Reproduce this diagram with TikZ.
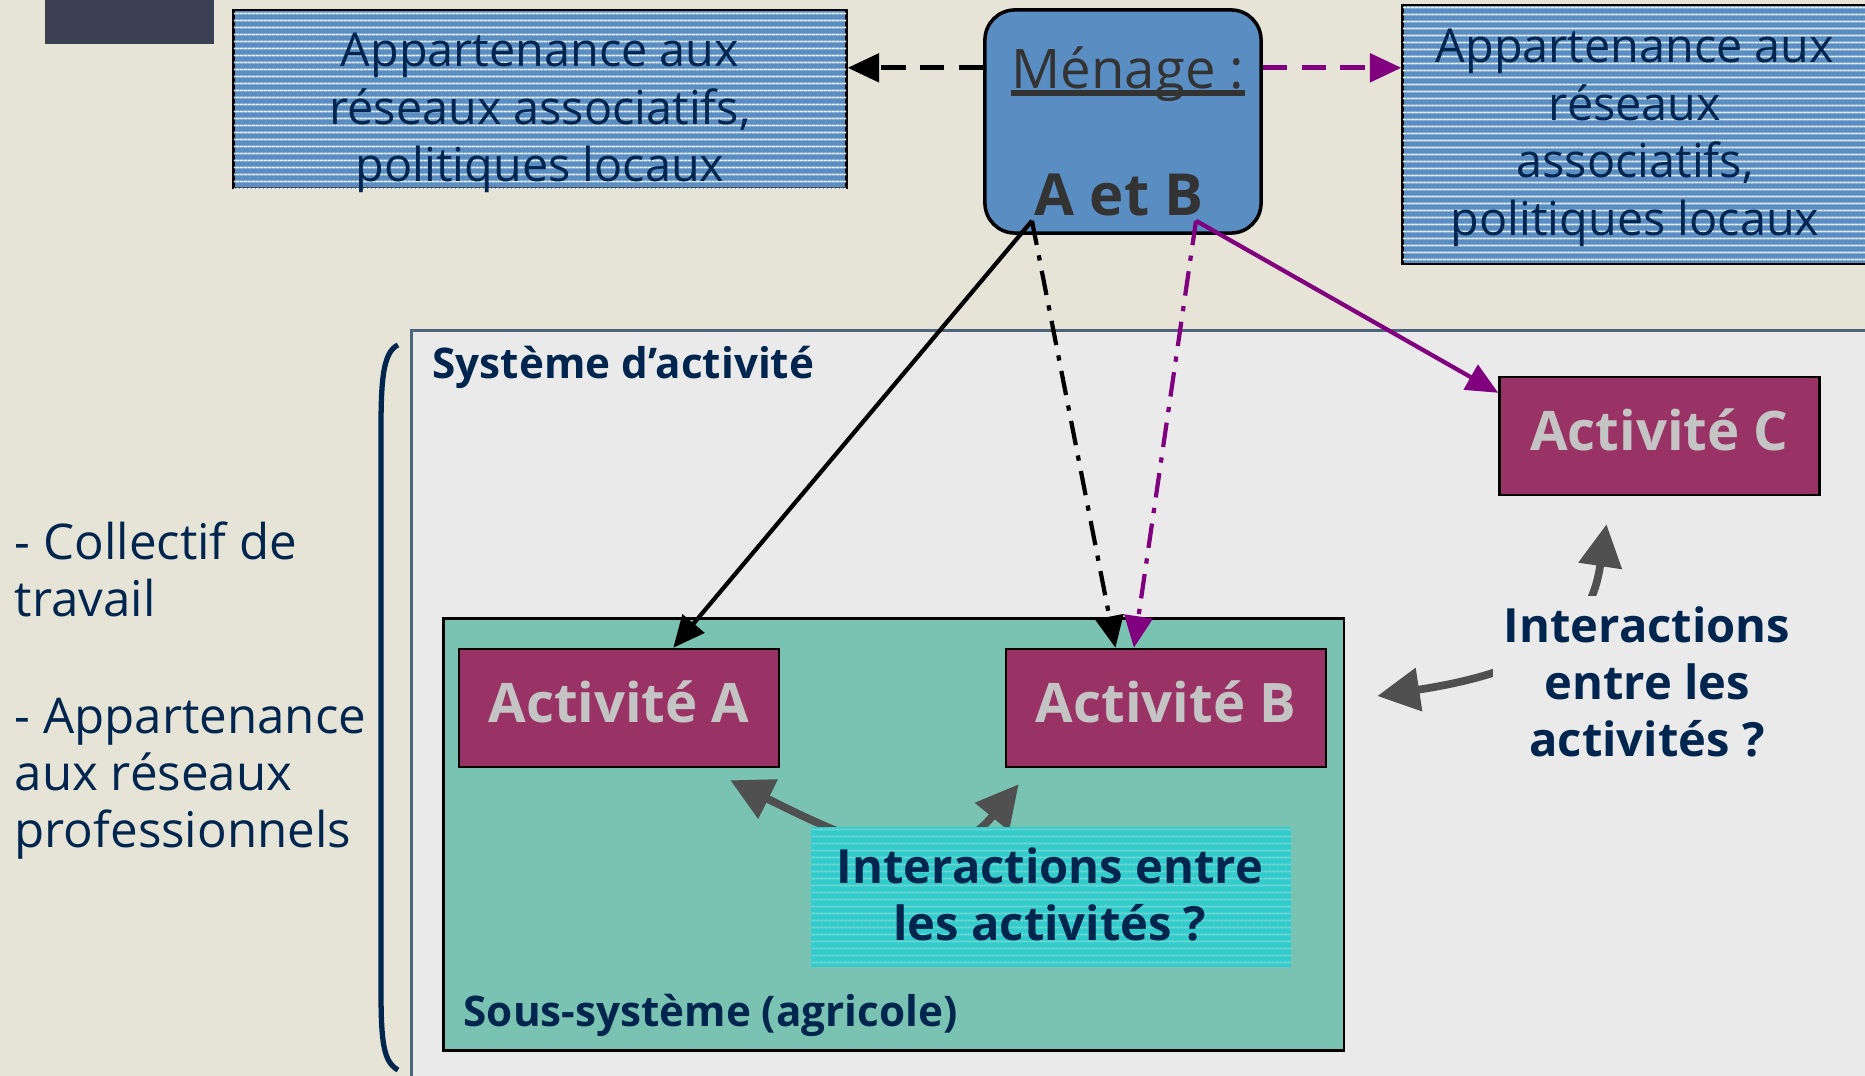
\documentclass[tikz,border=0pt]{standalone}
\usepackage{fontspec}
\setmainfont{Open Sans}
\usetikzlibrary{arrows.meta,patterns}
\definecolor{bgbeige}{HTML}{E6E4D6}
\definecolor{netblue}{HTML}{5A8DC2}
\definecolor{navytext}{HTML}{002650}
\definecolor{sysgray}{HTML}{EAEAEA}
\definecolor{sysline}{HTML}{50647E}
\definecolor{subteal}{HTML}{7AC2B2}
\definecolor{actpurple}{HTML}{993366}
\definecolor{acttext}{HTML}{C4C4C4}
\definecolor{intercyan}{HTML}{33CCCC}
\definecolor{intercyanline}{HTML}{6FD6D3}
\definecolor{menagetext}{HTML}{333333}
\definecolor{linkpurple}{HTML}{800080}
\definecolor{linkgray}{HTML}{505050}
\definecolor{darkblock}{HTML}{3B3F52}
\pgfdeclarepatternformonly{finelines}{\pgfpoint{0pt}{0pt}}{\pgfpoint{1pt}{2pt}}{\pgfpoint{1pt}{2pt}}{%
  \pgfsetlinewidth{0.55pt}%
  \pgfpathmoveto{\pgfpoint{-0.2pt}{0.5pt}}%
  \pgfpathlineto{\pgfpoint{1.2pt}{0.5pt}}%
  \pgfusepath{stroke}}
\begin{document}
\begin{tikzpicture}[x=0.01cm, y=-0.01cm,
  netbox/.style={draw=black, line width=0.8pt, fill=netblue,
    postaction={pattern=finelines, pattern color=white!85!netblue}, inner sep=0pt},
  nettext/.style={text=navytext, align=center, inner sep=0pt,
    font=\fontsize{13.3}{16.4}\selectfont},
  actbox/.style={draw=black, line width=0.7pt, fill=actpurple, text=acttext,
    minimum width=3.2cm, minimum height=1.18cm, inner sep=0pt,
    font=\bfseries\fontsize{15.5}{20}\selectfont},
  boxlabel/.style={text=navytext, inner sep=0pt, font=\bfseries\fontsize{12}{15}\selectfont},
  sidetext/.style={text=navytext, align=left, inner sep=0pt, anchor=north west,
    font=\fontsize{14}{16.2}\selectfont},
  intertext/.style={text=navytext, align=center, font=\bfseries\fontsize{13.4}{16.2}\selectfont},
  blacklink/.style={draw=black, line width=1.2pt, -{Triangle[length=9pt,width=8pt]}},
  purplelink/.style={draw=linkpurple, line width=1.2pt, -{Triangle[length=9pt,width=8pt]}},
  dashlink/.style={line width=1.5pt, dash pattern=on 7pt off 4pt},
  dotlink/.style={line width=1.2pt, dash pattern=on 7pt off 3pt on 1.5pt off 3pt},
  interlink/.style={draw=linkgray, line width=2.2pt,
    {Triangle[length=12pt,width=12pt]}-{Triangle[length=12pt,width=12pt]}}]
\useasboundingbox (0,0) rectangle (1865,1076);
\clip (0,0) rectangle (1865,1076);
\fill[bgbeige] (0,0) rectangle (1865,1076);
\fill[darkblock] (45,0) rectangle (214,44);
\node[netbox, minimum width=6.12cm, minimum height=1.78cm] (leftnet) at (540,99) {};
\node[nettext] (leftnettext) at (540,113) {Appartenance aux\\réseaux associatifs,\\politiques locaux};
\node[netbox, minimum width=4.64cm, minimum height=2.59cm] (rightnet) at (1635,134.5) {};
\node[nettext] (rightnettext) at (1635,138) {Appartenance aux\\réseaux\\associatifs,\\politiques locaux};
\node[draw=black, line width=1pt, fill=netblue, rounded corners=0.3cm,
  minimum width=2.76cm, minimum height=2.23cm] (menage) at (1123,121.5) {};
\node[text=menagetext, inner sep=0pt, anchor=base, font=\fontsize{15.5}{18}\selectfont] (menlabel) at (1128,89) {Ménage :};
\draw[menagetext, line width=1.6pt] ([shift={(0,4)}]menlabel.base west) -- ([shift={(0,4)}]menlabel.base east);
\node[text=menagetext, inner sep=0pt, font=\bfseries\fontsize{16.5}{20}\selectfont] (ab) at (1119,195) {A et B};
\node[draw=sysline, line width=0.8pt, fill=sysgray, anchor=north west, inner sep=0pt,
  minimum width=14.65cm, minimum height=7.56cm] (sys) at (410,329) {};
\node[boxlabel, anchor=west] (syslabel) at (432,367) {Système d’activité};
\node[draw=black, line width=0.8pt, fill=subteal, anchor=north west, inner sep=0pt,
  minimum width=9cm, minimum height=4.32cm] (subsys) at (442,617) {};
\node[boxlabel, anchor=west] (subslabel) at (463,1015) {Sous-système (agricole)};
\node[actbox] (actA) at (619,708) {Activité A\vphantom{p}};
\node[actbox] (actB) at (1166,708) {Activité B\vphantom{p}};
\node[actbox] (actC) at (1659.5,436) {Activité C\vphantom{p}};
\draw[interlink] ([shift={(-50,12)}]actA.south east) .. controls (860,845) and (940,880) .. ([shift={(14,16)}]actB.south west);
\draw[interlink] ([shift={(50,-12)}]actB.east) .. controls (1560,668) and (1592,620) .. ([shift={(-53,28)}]actC.south);
\node[fill=intercyan, postaction={pattern=finelines, pattern color=intercyanline},
  minimum width=4.8cm, minimum height=1.4cm, inner sep=0pt] (interbox) at (1051,897) {};
\node[intertext] (interAB) at (1050,894) {Interactions entre\\les activités ?};
\node[intertext, fill=sysgray, inner sep=3pt] (interC) at (1647,682) {Interactions\\entre les\\activités ?};
\node[sidetext] (collectif) at (14,521) {- Collectif de\\travail};
\node[sidetext] (reseaux) at (14,698) {- Appartenance\\aux réseaux\\professionnels};
\draw[navytext, line width=1.5pt] (398,345) .. controls (383,352) and (381,380) .. (381,430)
  -- (381,990) .. controls (381,1045) and (384,1062) .. (398,1070);
\draw[blacklink, dashlink] (menage.159) -- (menage.159 -| leftnet.east);
\draw[purplelink, dashlink] (menage.21) -- (menage.21 -| rightnet.west);
\draw[blacklink] ([shift={(-2,4)}]ab.south west) -- (actA.48);
\draw[blacklink, dotlink] ([shift={(-2,4)}]ab.south west) -- (actB.130);
\draw[purplelink, dotlink] ([shift={(-8,4)}]ab.south east) -- (actB.118);
\draw[purplelink] ([shift={(-8,4)}]ab.south east) -- (actC.165);
\end{tikzpicture}
\end{document}
